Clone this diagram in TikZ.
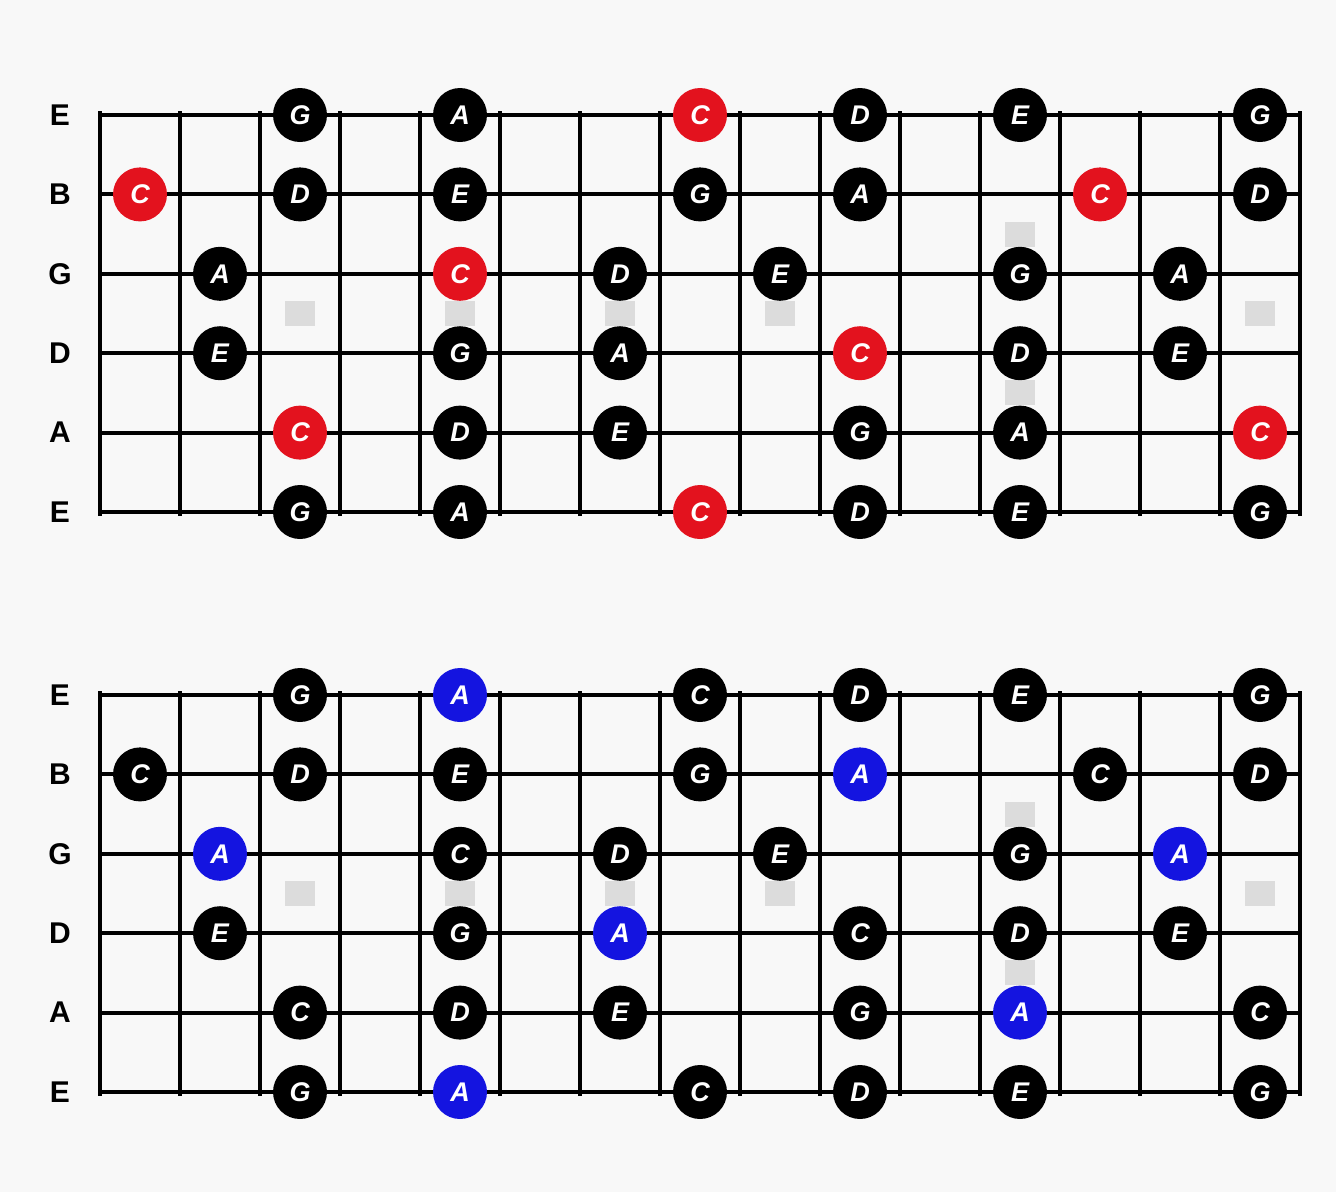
\documentclass[tikz,border=0pt]{standalone}
\usepackage{fontspec}
\setmainfont{Liberation Sans}
\definecolor{bg}{HTML}{F8F8F8}
\definecolor{nred}{HTML}{E3121E}
\definecolor{nblue}{HTML}{1414E0}
\definecolor{inlay}{HTML}{DCDCDC}
\tikzset{
  note/.style={circle,fill=black,minimum size=54pt,inner sep=0pt,text=white,
    font=\fontsize{27}{27}\selectfont\bfseries\itshape},
  notered/.style={note,fill=nred},
  noteblue/.style={note,fill=nblue},
  strline/.style={line width=4pt,black},
  fretline/.style={line width=3.5pt,black},
  strlabel/.style={font=\fontsize{30}{30}\selectfont\bfseries,text=black},
  inlaybox/.style={fill=inlay,minimum width=30pt,minimum height=25pt,inner sep=0pt}
}
\newcommand\board[4]{%
  % #1 = y of top string, #2 = name prefix, #3 = style of C, #4 = style of A
  \foreach \f in {3,5,7,9,15}
    \node[inlaybox] (#2-dot\f) at ({60+80*\f},{#1+2.5*79.4}) {};
  \node[inlaybox] (#2-dot12a) at (1020,{#1+1.5*79.4}) {};
  \node[inlaybox] (#2-dot12b) at (1020,{#1+3.5*79.4}) {};
  \foreach \k in {0,...,15}
    \draw[fretline] ({100+80*\k},{#1-4}) -- ({100+80*\k},{#1+5*79.4+4});
  \foreach \s/\lab in {0/E,1/B,2/G,3/D,4/A,5/E}{
    \coordinate (#2-s\s-l) at (100,{#1+79.4*\s});
    \coordinate (#2-s\s-r) at (1300,{#1+79.4*\s});
    \draw[strline] (#2-s\s-l) -- (#2-s\s-r);
    \node[strlabel] (#2-lab\s) at (60,{#1+79.4*\s}) {\lab};
  }
  \foreach \s/\f/\l/\st in {
    0/3/G/note, 0/5/A/#4, 0/8/C/#3, 0/10/D/note, 0/12/E/note, 0/15/G/note,
    1/1/C/#3, 1/3/D/note, 1/5/E/note, 1/8/G/note, 1/10/A/#4, 1/13/C/#3, 1/15/D/note,
    2/2/A/#4, 2/5/C/#3, 2/7/D/note, 2/9/E/note, 2/12/G/note, 2/14/A/#4,
    3/2/E/note, 3/5/G/note, 3/7/A/#4, 3/10/C/#3, 3/12/D/note, 3/14/E/note,
    4/3/C/#3, 4/5/D/note, 4/7/E/note, 4/10/G/note, 4/12/A/#4, 4/15/C/#3,
    5/3/G/note, 5/5/A/#4, 5/8/C/#3, 5/10/D/note, 5/12/E/note, 5/15/G/note}
    \node[\st] (#2-n\s-\f) at ({60+80*\f},{#1+79.4*\s}) {\l};
}
\begin{document}
\begin{tikzpicture}[x=1pt,y=-1pt]
  \fill[bg] (0,0) rectangle (1336,1192);
  \useasboundingbox (0,0) rectangle (1336,1192);
  \board{115}{top}{notered}{note}
  \board{695}{bot}{note}{noteblue}
\end{tikzpicture}
\end{document}
